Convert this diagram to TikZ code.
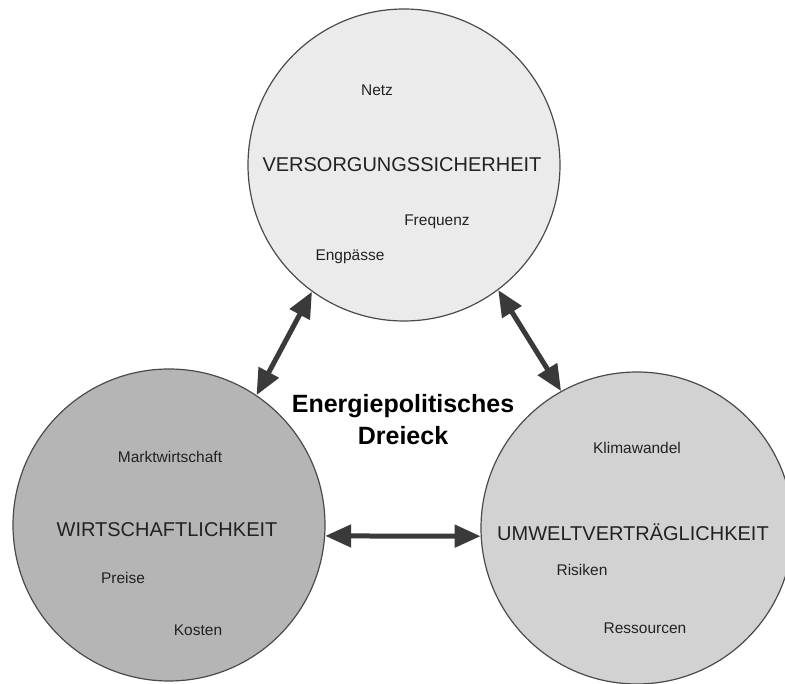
\documentclass[tikz,border=0pt]{standalone}
\usepackage{fontspec}
\setmainfont{Liberation Sans}
\usetikzlibrary{arrows.meta}
\definecolor{topfill}{HTML}{EBEBEB}
\definecolor{leftfill}{HTML}{B5B5B5}
\definecolor{rightfill}{HTML}{D2D2D2}
\definecolor{edgecol}{HTML}{4A4A4A}
\definecolor{arrowcol}{HTML}{3A3A3A}
\definecolor{txtcol}{HTML}{222222}
\tikzset{
  bigcircle/.style={circle, draw=edgecol, line width=1.2pt, minimum size=312pt, inner sep=0pt},
  maintitle/.style={font=\fontsize{20}{24}\selectfont, text=txtcol, inner sep=0pt},
  subitem/.style={font=\fontsize{15.5}{18}\selectfont, text=txtcol, inner sep=0pt},
  dblarrow/.style={draw=arrowcol, line width=5pt, {Triangle[length=26pt,width=22pt]}-{Triangle[length=26pt,width=22pt]}, shorten <=0pt, shorten >=0pt},
}
\begin{document}
\begin{tikzpicture}[x=1pt,y=-1pt]
\useasboundingbox (0,0) rectangle (785,684);
\node[bigcircle, fill=topfill] (vs) at (404,165) {};
\node[bigcircle, fill=leftfill] (wi) at (169,525) {};
\node[bigcircle, fill=rightfill] (uv) at (637,528) {};

\node[subitem] (netz) at (377,90) {Netz};
\node[maintitle] (vst) at (402,165) {VERSORGUNGSSICHERHEIT};
\node[subitem] (freq) at (437,222) {Frequenz};
\node[subitem] (engp) at (350,257) {Engpässe};

\node[subitem] (markt) at (170,457) {Marktwirtschaft};
\node[maintitle] (wit) at (167,530) {WIRTSCHAFTLICHKEIT};
\node[subitem] (preise) at (123,578) {Preise};
\node[subitem] (kosten) at (198,630) {Kosten};

\node[subitem] (klima) at (637,448) {Klimawandel};
\node[maintitle] (uvt) at (633,532) {UMWELTVERTRÄGLICHKEIT};
\node[subitem] (risiken) at (582,570) {Risiken};
\node[subitem] (ress) at (645,628) {Ressourcen};

\node[font=\bfseries\fontsize{25}{32}\selectfont, align=center, text=black, inner sep=0pt] (title) at (403,420) {Energiepolitisches\\Dreieck};

\draw[dblarrow] (wi.56.7) -- (vs.234.6);
\draw[dblarrow] (uv.119.7) -- (vs.307.5);
\draw[dblarrow] (wi.-4) -- (uv.183);
\end{tikzpicture}
\end{document}
